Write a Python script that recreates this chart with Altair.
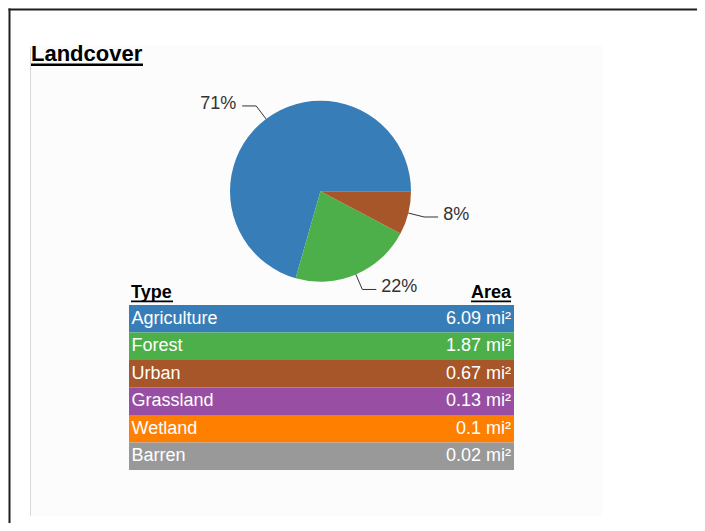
import json
import math

import altair as alt
import pandas as pd

# ---------------- data ----------------
types = ["Agriculture", "Forest", "Urban", "Grassland", "Wetland", "Barren"]
areas = [6.09, 1.87, 0.67, 0.13, 0.1, 0.02]
colors = ["#377eb8", "#4daf4a", "#a65628", "#984ea3", "#ff7f00", "#999999"]
pie_types = ["Urban", "Forest", "Agriculture"]  # clockwise from 3 o'clock
title_text = "Landcover"
header_type = "Type"
header_area = "Area"
unit = " mi²"

df = pd.DataFrame({"type": types, "area": areas})
one = pd.DataFrame({"k": [0]})

# ---------------- layout (view pixels) ----------------
W, H = 689, 515
CX, CY, R = 312.5, 183.2, 90.5
TX0, TX1 = 121, 506
TY0, TY1 = 297, 462
FONT = "Liberation Sans"

color_scale = alt.Scale(domain=types, range=colors)

# frame: top and left edges (the rest runs off the page)
frame_top = alt.Chart(one).mark_rule(color="#1e1e1e", strokeWidth=2).encode(
    x=alt.value(0.5), x2=alt.value(W), y=alt.value(1.5)
)
frame_left = alt.Chart(one).mark_rule(color="#1e1e1e", strokeWidth=2).encode(
    x=alt.value(1.5), y=alt.value(0.5), y2=alt.value(H)
)
panel = alt.Chart(one).mark_rect(color="#fcfcfc").encode(
    x=alt.value(22), x2=alt.value(594), y=alt.value(37), y2=alt.value(508)
)
panel_line = alt.Chart(one).mark_rule(color="#d9d9d9", strokeWidth=1).encode(
    x=alt.value(22.5), y=alt.value(39), y2=alt.value(508)
)
title = alt.Chart(one).mark_text(
    font=FONT, fontSize=22, fontWeight="bold", align="left", baseline="alphabetic", color="#000000"
).encode(x=alt.value(23), y=alt.value(52.7), text=alt.value(title_text))
title_ul = alt.Chart(one).mark_rule(color="#000000", strokeWidth=2.5).encode(
    x=alt.value(23), x2=alt.value(135), y=alt.value(56.7)
)

# ---------------- pie ----------------
order_expr = "indexof(" + json.dumps(pie_types) + ", datum.type)"
pie_base = (
    alt.Chart(df)
    .transform_filter(alt.FieldOneOfPredicate(field="type", oneOf=pie_types))
    .transform_calculate(ord=order_expr)
)
arcs = pie_base.mark_arc(radius=R).encode(
    theta=alt.Theta(
        "area:Q", stack=True, scale=alt.Scale(range=[math.pi / 2, math.pi / 2 + 2 * math.pi])
    ),
    order=alt.Order("ord:Q"),
    color=alt.Color("type:N", scale=color_scale, legend=None),
    x=alt.value(CX),
    y=alt.value(CY),
)

geo = (
    pie_base.transform_window(cum="sum(area)", sort=[alt.SortField("ord")], frame=[None, 0])
    .transform_joinaggregate(total="sum(area)")
    .transform_calculate(mid="PI/2 + 2*PI*(datum.cum - datum.area/2)/datum.total")
    .transform_calculate(ux="sin(datum.mid)", uy="-cos(datum.mid)")
    .transform_calculate(
        ex="1.18*datum.ux",
        ey="1.18*datum.uy",
        pct="round(100*datum.area/datum.total) + '%'",
    )
    .transform_calculate(hx="datum.ex + (datum.ux > 0 ? 1 : -1)*0.155")
)
xs = alt.Scale(domain=[-1, 1], range=[CX - R, CX + R], nice=False, zero=False)
ys = alt.Scale(domain=[-1, 1], range=[CY - R, CY + R], nice=False, zero=False)

seg1 = geo.mark_rule(color="#333333", strokeWidth=1).encode(
    x=alt.X("ux:Q", scale=xs, axis=None),
    y=alt.Y("uy:Q", scale=ys, axis=None),
    x2="ex:Q",
    y2="ey:Q",
)
seg2 = geo.mark_rule(color="#333333", strokeWidth=1).encode(
    x=alt.X("ex:Q", scale=xs, axis=None),
    y=alt.Y("ey:Q", scale=ys, axis=None),
    x2="hx:Q",
)
lab_r = geo.transform_filter("datum.ux > 0").mark_text(
    font=FONT, fontSize=18, align="left", baseline="middle", dx=5, dy=-2, color="#333333"
).encode(
    x=alt.X("hx:Q", scale=xs, axis=None),
    y=alt.Y("ey:Q", scale=ys, axis=None),
    text="pct:N",
)
lab_l = geo.transform_filter("datum.ux <= 0").mark_text(
    font=FONT, fontSize=18, align="right", baseline="middle", dx=-6, dy=-2, color="#333333"
).encode(
    x=alt.X("hx:Q", scale=xs, axis=None),
    y=alt.Y("ey:Q", scale=ys, axis=None),
    text="pct:N",
)
pie = alt.layer(arcs, seg1, seg2, lab_r, lab_l)

# ---------------- table ----------------
tbase = alt.Chart(df).transform_calculate(
    lbl="format(datum.area, '.2~f') + '" + unit + "'"
)
ty = alt.Y(
    "type:N",
    sort=types,
    scale=alt.Scale(range=[TY0, TY1], paddingInner=0, paddingOuter=0),
    axis=None,
)
rows = tbase.mark_rect().encode(
    y=ty,
    x=alt.value(TX0),
    x2=alt.value(TX1),
    color=alt.Color("type:N", scale=color_scale, legend=None),
)
names = tbase.mark_text(
    font=FONT, fontSize=18, align="left", baseline="middle", color="#ffffff"
).encode(y=ty, x=alt.value(TX0 + 2.5), text="type:N")
vals = tbase.mark_text(
    font=FONT, fontSize=18, align="right", baseline="middle", color="#ffffff"
).encode(y=ty, x=alt.value(TX1 - 3), text="lbl:N")
table = alt.layer(rows, names, vals)

hdr_type = alt.Chart(one).mark_text(
    font=FONT, fontSize=18, fontWeight="bold", align="left", baseline="alphabetic", color="#000000"
).encode(x=alt.value(123), y=alt.value(289.5), text=alt.value(header_type))
hdr_area = alt.Chart(one).mark_text(
    font=FONT, fontSize=18, fontWeight="bold", align="right", baseline="alphabetic", color="#000000"
).encode(x=alt.value(503), y=alt.value(289.5), text=alt.value(header_area))
ul_type = alt.Chart(one).mark_rule(color="#000000", strokeWidth=1.8).encode(
    x=alt.value(123), x2=alt.value(165), y=alt.value(293.3)
)
ul_area = alt.Chart(one).mark_rule(color="#000000", strokeWidth=1.8).encode(
    x=alt.value(463), x2=alt.value(503), y=alt.value(293.3)
)

chart = (
    alt.layer(
        frame_top, frame_left, panel, panel_line, title, title_ul, pie, table,
        hdr_type, hdr_area, ul_type, ul_area,
    )
    .resolve_scale(x="independent", y="independent")
    .properties(
        width=W,
        height=H,
        autosize=alt.AutoSizeParams(type="none"),
        padding=0,
        background="#ffffff",
    )
    .configure_view(strokeWidth=0)
)

chart.save("out.html", embed_options={"renderer": "svg", "actions": False})
